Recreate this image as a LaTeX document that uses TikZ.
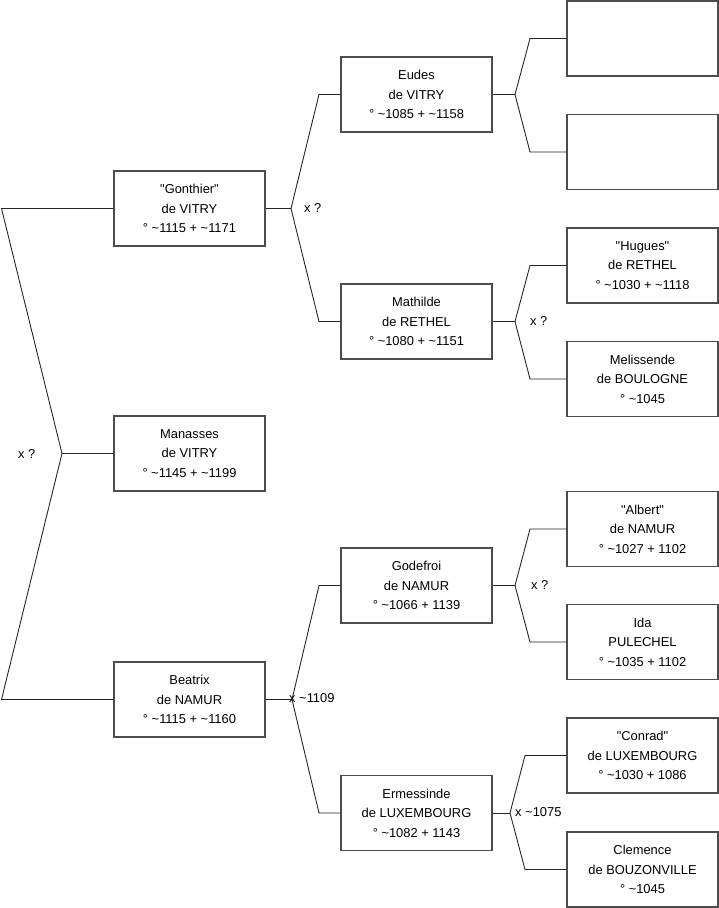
\documentclass[tikz,border=0pt]{standalone}
\usepackage{fontspec}
\setmainfont{Liberation Sans}[Ligatures=TeXOff]
\begin{document}
\begin{tikzpicture}[x=1pt,y=-1pt,
  person/.style={draw=black!70, line width=1.1pt, minimum width=151pt, minimum height=75pt, inner sep=0pt, align=center, font=\fontsize{12.9}{19.5}\selectfont},
  link/.style={draw=black!85, line width=0.9pt},
  lab/.style={font=\fontsize{12.9}{15}\selectfont, inner sep=0pt, anchor=west}]
\useasboundingbox (0,0) rectangle (719,908);
% level 1
\node[person] (gon) at (189.5,208.5) {"Gonthier"\\de VITRY\\° \textasciitilde1115 + \textasciitilde1171};
\node[person] (man) at (189.5,453.5) {Manasses\\de VITRY\\° \textasciitilde1145 + \textasciitilde1199};
\node[person] (bea) at (189.5,699.5) {Beatrix\\de NAMUR\\° \textasciitilde1115 + \textasciitilde1160};
% level 2
\node[person] (eud) at (416.5,94.5) {Eudes\\de VITRY\\° \textasciitilde1085 + \textasciitilde1158};
\node[person] (mat) at (416.5,321.5) {Mathilde\\de RETHEL\\° \textasciitilde1080 + \textasciitilde1151};
\node[person] (god) at (416.5,585.5) {Godefroi\\de NAMUR\\° \textasciitilde1066 + 1139};
\node[person] (erm) at (416.5,813) {Ermessinde\\de LUXEMBOURG\\° \textasciitilde1082 + 1143};
% level 3
\node[person] (b1) at (642.5,38.5) {};
\node[person] (b2) at (642.5,152) {};
\node[person] (hug) at (642.5,265.5) {"Hugues"\\de RETHEL\\° \textasciitilde1030 + \textasciitilde1118};
\node[person] (mel) at (642.5,379) {Melissende\\de BOULOGNE\\° \textasciitilde1045};
\node[person] (alb) at (642.5,529) {"Albert"\\de NAMUR\\° \textasciitilde1027 + 1102};
\node[person] (ida) at (642.5,642) {Ida\\PULECHEL\\° \textasciitilde1035 + 1102};
\node[person] (con) at (642.5,755.5) {"Conrad"\\de LUXEMBOURG\\° \textasciitilde1030 + 1086};
\node[person] (cle) at (642.5,869.5) {Clemence\\de BOUZONVILLE\\° \textasciitilde1045};
% junctions
\coordinate (j0) at (62,453.5);
\coordinate (j0a) at (1.5,208.5);
\coordinate (j0b) at (1.5,699.5);
\coordinate (j1) at (291,208.5);
\coordinate (j1a) at (319,94.5);
\coordinate (j1b) at (319,321.5);
\coordinate (j2) at (292,699.5);
\coordinate (j2a) at (319,585.5);
\coordinate (j2b) at (319,813);
\coordinate (j3) at (515,94.5);
\coordinate (j3a) at (530,38.5);
\coordinate (j3b) at (530,152);
\coordinate (j4) at (515,321.5);
\coordinate (j4a) at (530,265.5);
\coordinate (j4b) at (530,379);
\coordinate (j5) at (515,585.5);
\coordinate (j5a) at (530,529);
\coordinate (j5b) at (530,642);
\coordinate (j6) at (510,813);
\coordinate (j6a) at (525,755.5);
\coordinate (j6b) at (525,869.5);
% connectors
\draw[link] (man.west) -- (j0);
\draw[link] (gon.west) -- (j0a) -- (j0) -- (j0b) -- (bea.west);
\draw[link] (gon.east) -- (j1);
\draw[link] (eud.west) -- (j1a) -- (j1) -- (j1b) -- (mat.west);
\draw[link] (bea.east) -- (j2);
\draw[link] (god.west) -- (j2a) -- (j2) -- (j2b) -- (erm.west);
\draw[link] (eud.east) -- (j3);
\draw[link] (b1.west) -- (j3a) -- (j3) -- (j3b) -- (b2.west);
\draw[link] (mat.east) -- (j4);
\draw[link] (hug.west) -- (j4a) -- (j4) -- (j4b) -- (mel.west);
\draw[link] (god.east) -- (j5);
\draw[link] (alb.west) -- (j5a) -- (j5) -- (j5b) -- (ida.west);
\draw[link] (erm.east) -- (j6);
\draw[link] (con.west) -- (j6a) -- (j6) -- (j6b) -- (cle.west);
% labels
\node[lab] (l0) at (18,453.5) {x ?};
\node[lab] (l1) at (304,208) {x ?};
\node[lab] (l2) at (289,698.5) {x \textasciitilde1109};
\node[lab] (l4) at (530,320.5) {x ?};
\node[lab] (l5) at (531,585) {x ?};
\node[lab] (l6) at (515,812) {x \textasciitilde1075};
\end{tikzpicture}
\end{document}
